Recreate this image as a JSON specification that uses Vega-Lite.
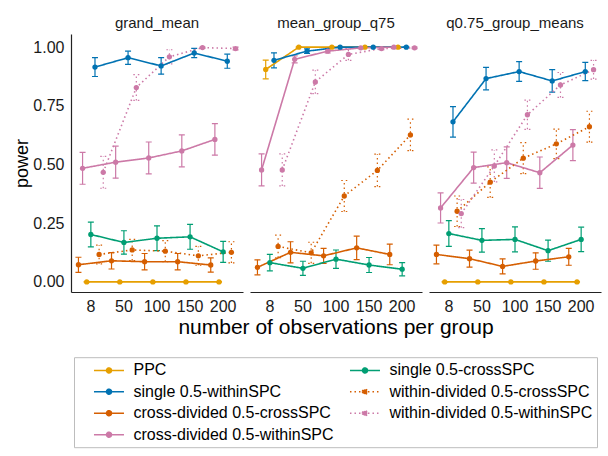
{
  "$schema": "https://vega.github.io/schema/vega-lite/v6.json",
  "padding": {"left": 13, "top": 16, "right": 5, "bottom": 5},
  "config": {
    "font": "Liberation Sans",
    "view": {"stroke": null},
    "axis": {"grid": false, "ticks": false, "domainColor": "#222222", "domainWidth": 1.2, "labelColor": "#1a1a1a", "labelFontSize": 16, "titleFontWeight": "normal", "titleColor": "#000000"},
    "header": {"labelFontSize": 15, "labelColor": "#1a1a1a", "titleFontSize": 21, "titleFontWeight": "normal", "titleColor": "#000000"},
    "legend": {"labelFontSize": 16, "labelColor": "#000000"}
  },
  "data": {"values": [
    {"panel":"grand_mean","n":"8","series":"PPC","power":0,"lo":0,"hi":0},
    {"panel":"grand_mean","n":"50","series":"PPC","power":0,"lo":0,"hi":0},
    {"panel":"grand_mean","n":"100","series":"PPC","power":0,"lo":0,"hi":0},
    {"panel":"grand_mean","n":"150","series":"PPC","power":0,"lo":0,"hi":0},
    {"panel":"grand_mean","n":"200","series":"PPC","power":0,"lo":0,"hi":0},
    {"panel":"grand_mean","n":"8","series":"single 0.5-withinSPC","power":0.915,"lo":0.875,"hi":0.955},
    {"panel":"grand_mean","n":"50","series":"single 0.5-withinSPC","power":0.955,"lo":0.927,"hi":0.983},
    {"panel":"grand_mean","n":"100","series":"single 0.5-withinSPC","power":0.92,"lo":0.885,"hi":0.955},
    {"panel":"grand_mean","n":"150","series":"single 0.5-withinSPC","power":0.975,"lo":0.955,"hi":0.995},
    {"panel":"grand_mean","n":"200","series":"single 0.5-withinSPC","power":0.94,"lo":0.91,"hi":0.97},
    {"panel":"grand_mean","n":"8","series":"cross-divided 0.5-crossSPC","power":0.073,"lo":0.041,"hi":0.105},
    {"panel":"grand_mean","n":"50","series":"cross-divided 0.5-crossSPC","power":0.09,"lo":0.055,"hi":0.125},
    {"panel":"grand_mean","n":"100","series":"cross-divided 0.5-crossSPC","power":0.086,"lo":0.051,"hi":0.121},
    {"panel":"grand_mean","n":"150","series":"cross-divided 0.5-crossSPC","power":0.086,"lo":0.051,"hi":0.121},
    {"panel":"grand_mean","n":"200","series":"cross-divided 0.5-crossSPC","power":0.072,"lo":0.042,"hi":0.102},
    {"panel":"grand_mean","n":"8","series":"cross-divided 0.5-withinSPC","power":0.484,"lo":0.416,"hi":0.552},
    {"panel":"grand_mean","n":"50","series":"cross-divided 0.5-withinSPC","power":0.51,"lo":0.442,"hi":0.578},
    {"panel":"grand_mean","n":"100","series":"cross-divided 0.5-withinSPC","power":0.528,"lo":0.46,"hi":0.596},
    {"panel":"grand_mean","n":"150","series":"cross-divided 0.5-withinSPC","power":0.558,"lo":0.49,"hi":0.626},
    {"panel":"grand_mean","n":"200","series":"cross-divided 0.5-withinSPC","power":0.607,"lo":0.54,"hi":0.674},
    {"panel":"grand_mean","n":"8","series":"single 0.5-crossSPC","power":0.202,"lo":0.149,"hi":0.255},
    {"panel":"grand_mean","n":"50","series":"single 0.5-crossSPC","power":0.168,"lo":0.118,"hi":0.218},
    {"panel":"grand_mean","n":"100","series":"single 0.5-crossSPC","power":0.186,"lo":0.133,"hi":0.239},
    {"panel":"grand_mean","n":"150","series":"single 0.5-crossSPC","power":0.192,"lo":0.139,"hi":0.245},
    {"panel":"grand_mean","n":"200","series":"single 0.5-crossSPC","power":0.128,"lo":0.083,"hi":0.173},
    {"panel":"grand_mean","n":"8","series":"within-divided 0.5-crossSPC","power":0.117,"lo":0.077,"hi":0.157},
    {"panel":"grand_mean","n":"50","series":"within-divided 0.5-crossSPC","power":0.136,"lo":0.091,"hi":0.181},
    {"panel":"grand_mean","n":"100","series":"within-divided 0.5-crossSPC","power":0.131,"lo":0.086,"hi":0.176},
    {"panel":"grand_mean","n":"150","series":"within-divided 0.5-crossSPC","power":0.111,"lo":0.071,"hi":0.151},
    {"panel":"grand_mean","n":"200","series":"within-divided 0.5-crossSPC","power":0.126,"lo":0.081,"hi":0.171},
    {"panel":"grand_mean","n":"8","series":"within-divided 0.5-withinSPC","power":0.467,"lo":0.399,"hi":0.535},
    {"panel":"grand_mean","n":"50","series":"within-divided 0.5-withinSPC","power":0.828,"lo":0.773,"hi":0.883},
    {"panel":"grand_mean","n":"100","series":"within-divided 0.5-withinSPC","power":0.959,"lo":0.929,"hi":0.989},
    {"panel":"grand_mean","n":"150","series":"within-divided 0.5-withinSPC","power":0.998,"lo":0.995,"hi":1.0},
    {"panel":"grand_mean","n":"200","series":"within-divided 0.5-withinSPC","power":0.994,"lo":0.988,"hi":1.0},

    {"panel":"mean_group_q75","n":"8","series":"PPC","power":0.905,"lo":0.865,"hi":0.945},
    {"panel":"mean_group_q75","n":"50","series":"PPC","power":1.0,"lo":1.0,"hi":1.0},
    {"panel":"mean_group_q75","n":"100","series":"PPC","power":1.0,"lo":1.0,"hi":1.0},
    {"panel":"mean_group_q75","n":"150","series":"PPC","power":1.0,"lo":1.0,"hi":1.0},
    {"panel":"mean_group_q75","n":"200","series":"PPC","power":1.0,"lo":1.0,"hi":1.0},
    {"panel":"mean_group_q75","n":"8","series":"single 0.5-withinSPC","power":0.944,"lo":0.912,"hi":0.976},
    {"panel":"mean_group_q75","n":"50","series":"single 0.5-withinSPC","power":0.983,"lo":0.973,"hi":0.993},
    {"panel":"mean_group_q75","n":"100","series":"single 0.5-withinSPC","power":1.0,"lo":1.0,"hi":1.0},
    {"panel":"mean_group_q75","n":"150","series":"single 0.5-withinSPC","power":1.0,"lo":1.0,"hi":1.0},
    {"panel":"mean_group_q75","n":"200","series":"single 0.5-withinSPC","power":1.0,"lo":1.0,"hi":1.0},
    {"panel":"mean_group_q75","n":"8","series":"cross-divided 0.5-crossSPC","power":0.062,"lo":0.03,"hi":0.094},
    {"panel":"mean_group_q75","n":"50","series":"cross-divided 0.5-crossSPC","power":0.126,"lo":0.081,"hi":0.171},
    {"panel":"mean_group_q75","n":"100","series":"cross-divided 0.5-crossSPC","power":0.111,"lo":0.079,"hi":0.143},
    {"panel":"mean_group_q75","n":"150","series":"cross-divided 0.5-crossSPC","power":0.145,"lo":0.095,"hi":0.195},
    {"panel":"mean_group_q75","n":"200","series":"cross-divided 0.5-crossSPC","power":0.117,"lo":0.073,"hi":0.161},
    {"panel":"mean_group_q75","n":"8","series":"cross-divided 0.5-withinSPC","power":0.477,"lo":0.409,"hi":0.545},
    {"panel":"mean_group_q75","n":"50","series":"cross-divided 0.5-withinSPC","power":0.948,"lo":0.933,"hi":0.963},
    {"panel":"mean_group_q75","n":"100","series":"cross-divided 0.5-withinSPC","power":0.983,"lo":0.975,"hi":0.991},
    {"panel":"mean_group_q75","n":"150","series":"cross-divided 0.5-withinSPC","power":0.997,"lo":0.994,"hi":1.0},
    {"panel":"mean_group_q75","n":"200","series":"cross-divided 0.5-withinSPC","power":1.0,"lo":1.0,"hi":1.0},
    {"panel":"mean_group_q75","n":"8","series":"single 0.5-crossSPC","power":0.082,"lo":0.047,"hi":0.117},
    {"panel":"mean_group_q75","n":"50","series":"single 0.5-crossSPC","power":0.058,"lo":0.028,"hi":0.088},
    {"panel":"mean_group_q75","n":"100","series":"single 0.5-crossSPC","power":0.097,"lo":0.058,"hi":0.136},
    {"panel":"mean_group_q75","n":"150","series":"single 0.5-crossSPC","power":0.072,"lo":0.04,"hi":0.104},
    {"panel":"mean_group_q75","n":"200","series":"single 0.5-crossSPC","power":0.054,"lo":0.026,"hi":0.082},
    {"panel":"mean_group_q75","n":"8","series":"within-divided 0.5-crossSPC","power":0.151,"lo":0.103,"hi":0.199},
    {"panel":"mean_group_q75","n":"50","series":"within-divided 0.5-crossSPC","power":0.124,"lo":0.079,"hi":0.169},
    {"panel":"mean_group_q75","n":"100","series":"within-divided 0.5-crossSPC","power":0.366,"lo":0.3,"hi":0.432},
    {"panel":"mean_group_q75","n":"150","series":"within-divided 0.5-crossSPC","power":0.475,"lo":0.406,"hi":0.544},
    {"panel":"mean_group_q75","n":"200","series":"within-divided 0.5-crossSPC","power":0.626,"lo":0.559,"hi":0.693},
    {"panel":"mean_group_q75","n":"8","series":"within-divided 0.5-withinSPC","power":0.477,"lo":0.409,"hi":0.545},
    {"panel":"mean_group_q75","n":"50","series":"within-divided 0.5-withinSPC","power":0.852,"lo":0.802,"hi":0.902},
    {"panel":"mean_group_q75","n":"100","series":"within-divided 0.5-withinSPC","power":0.969,"lo":0.944,"hi":0.994},
    {"panel":"mean_group_q75","n":"150","series":"within-divided 0.5-withinSPC","power":0.994,"lo":0.989,"hi":0.999},
    {"panel":"mean_group_q75","n":"200","series":"within-divided 0.5-withinSPC","power":0.997,"lo":0.994,"hi":1.0},

    {"panel":"q0.75_group_means","n":"8","series":"PPC","power":0,"lo":0,"hi":0},
    {"panel":"q0.75_group_means","n":"50","series":"PPC","power":0,"lo":0,"hi":0},
    {"panel":"q0.75_group_means","n":"100","series":"PPC","power":0,"lo":0,"hi":0},
    {"panel":"q0.75_group_means","n":"150","series":"PPC","power":0,"lo":0,"hi":0},
    {"panel":"q0.75_group_means","n":"200","series":"PPC","power":0,"lo":0,"hi":0},
    {"panel":"q0.75_group_means","n":"8","series":"single 0.5-withinSPC","power":0.682,"lo":0.617,"hi":0.747},
    {"panel":"q0.75_group_means","n":"50","series":"single 0.5-withinSPC","power":0.866,"lo":0.818,"hi":0.914},
    {"panel":"q0.75_group_means","n":"100","series":"single 0.5-withinSPC","power":0.896,"lo":0.854,"hi":0.938},
    {"panel":"q0.75_group_means","n":"150","series":"single 0.5-withinSPC","power":0.856,"lo":0.808,"hi":0.904},
    {"panel":"q0.75_group_means","n":"200","series":"single 0.5-withinSPC","power":0.896,"lo":0.857,"hi":0.935},
    {"panel":"q0.75_group_means","n":"8","series":"cross-divided 0.5-crossSPC","power":0.117,"lo":0.077,"hi":0.157},
    {"panel":"q0.75_group_means","n":"50","series":"cross-divided 0.5-crossSPC","power":0.099,"lo":0.063,"hi":0.135},
    {"panel":"q0.75_group_means","n":"100","series":"cross-divided 0.5-crossSPC","power":0.066,"lo":0.034,"hi":0.098},
    {"panel":"q0.75_group_means","n":"150","series":"cross-divided 0.5-crossSPC","power":0.089,"lo":0.054,"hi":0.124},
    {"panel":"q0.75_group_means","n":"200","series":"cross-divided 0.5-crossSPC","power":0.107,"lo":0.071,"hi":0.143},
    {"panel":"q0.75_group_means","n":"8","series":"cross-divided 0.5-withinSPC","power":0.315,"lo":0.251,"hi":0.379},
    {"panel":"q0.75_group_means","n":"50","series":"cross-divided 0.5-withinSPC","power":0.487,"lo":0.421,"hi":0.553},
    {"panel":"q0.75_group_means","n":"100","series":"cross-divided 0.5-withinSPC","power":0.508,"lo":0.441,"hi":0.575},
    {"panel":"q0.75_group_means","n":"150","series":"cross-divided 0.5-withinSPC","power":0.465,"lo":0.398,"hi":0.532},
    {"panel":"q0.75_group_means","n":"200","series":"cross-divided 0.5-withinSPC","power":0.583,"lo":0.517,"hi":0.649},
    {"panel":"q0.75_group_means","n":"8","series":"single 0.5-crossSPC","power":0.206,"lo":0.151,"hi":0.261},
    {"panel":"q0.75_group_means","n":"50","series":"single 0.5-crossSPC","power":0.177,"lo":0.127,"hi":0.227},
    {"panel":"q0.75_group_means","n":"100","series":"single 0.5-crossSPC","power":0.181,"lo":0.128,"hi":0.234},
    {"panel":"q0.75_group_means","n":"150","series":"single 0.5-crossSPC","power":0.133,"lo":0.088,"hi":0.178},
    {"panel":"q0.75_group_means","n":"200","series":"single 0.5-crossSPC","power":0.181,"lo":0.129,"hi":0.233},
    {"panel":"q0.75_group_means","n":"8","series":"within-divided 0.5-crossSPC","power":0.301,"lo":0.236,"hi":0.366},
    {"panel":"q0.75_group_means","n":"50","series":"within-divided 0.5-crossSPC","power":0.425,"lo":0.36,"hi":0.49},
    {"panel":"q0.75_group_means","n":"100","series":"within-divided 0.5-crossSPC","power":0.527,"lo":0.461,"hi":0.593},
    {"panel":"q0.75_group_means","n":"150","series":"within-divided 0.5-crossSPC","power":0.588,"lo":0.525,"hi":0.651},
    {"panel":"q0.75_group_means","n":"200","series":"within-divided 0.5-crossSPC","power":0.661,"lo":0.595,"hi":0.727},
    {"panel":"q0.75_group_means","n":"8","series":"within-divided 0.5-withinSPC","power":0.291,"lo":0.231,"hi":0.351},
    {"panel":"q0.75_group_means","n":"50","series":"within-divided 0.5-withinSPC","power":0.494,"lo":0.426,"hi":0.562},
    {"panel":"q0.75_group_means","n":"100","series":"within-divided 0.5-withinSPC","power":0.712,"lo":0.65,"hi":0.774},
    {"panel":"q0.75_group_means","n":"150","series":"within-divided 0.5-withinSPC","power":0.839,"lo":0.786,"hi":0.892},
    {"panel":"q0.75_group_means","n":"200","series":"within-divided 0.5-withinSPC","power":0.904,"lo":0.864,"hi":0.944}
  ]},
  "facet": {
    "column": {
      "field": "panel",
      "type": "nominal",
      "sort": ["grand_mean", "mean_group_q75", "q0.75_group_means"],
      "title": "number of observations per group",
      "header": {"titleOrient": "bottom", "labelOrient": "top", "labelBaseline": "alphabetic", "labelPadding": -9, "titlePadding": -7}
    }
  },
  "spacing": {"column": 7},
  "spec": {
    "width": 172,
    "height": 258,
    "encoding": {
      "x": {"field": "n", "type": "ordinal", "sort": ["8", "50", "100", "150", "200"],
        "scale": {"paddingInner": 0, "paddingOuter": 0.1},
        "axis": {"title": null, "labelAngle": 0, "labelPadding": 6}},
      "xOffset": {"field": "series", "type": "nominal",
        "scale": {"type": "point", "padding": 2.85,
          "domain": ["cross-divided 0.5-crossSPC", "cross-divided 0.5-withinSPC", "PPC", "single 0.5-crossSPC", "single 0.5-withinSPC", "within-divided 0.5-crossSPC", "within-divided 0.5-withinSPC"]}},
      "color": {"field": "series", "type": "nominal",
        "scale": {
          "domain": ["PPC", "single 0.5-withinSPC", "cross-divided 0.5-crossSPC", "cross-divided 0.5-withinSPC", "single 0.5-crossSPC", "within-divided 0.5-crossSPC", "within-divided 0.5-withinSPC"],
          "range": ["#E69F00", "#0072B2", "#D55E00", "#CC79A7", "#009E73", "#D55E00", "#CC79A7"]},
        "legend": {
          "title": null, "orient": "none", "legendX": 3, "legendY": 323.2,
          "columns": 2, "columnPadding": -4, "rowPadding": 4.5,
          "padding": 4.5, "strokeColor": "#bdbdbd",
          "symbolType": "M0.93,0H4.93M2.6,0A0.33,0.33,0,1,0,3.26,0A0.33,0.33,0,1,0,2.6,0Z",
          "symbolSize": 225, "symbolStrokeWidth": 1.6, "symbolOpacity": 1,
          "labelOffset": 38, "labelFontSize": 16, "labelLimit": 400,
          "encode": {"symbols": {"update": {"fill": {"scale": "color", "field": "value"}}}}
        }},
      "strokeDash": {"field": "series", "type": "nominal",
        "scale": {
          "domain": ["PPC", "single 0.5-withinSPC", "cross-divided 0.5-crossSPC", "cross-divided 0.5-withinSPC", "single 0.5-crossSPC", "within-divided 0.5-crossSPC", "within-divided 0.5-withinSPC"],
          "range": [[1, 0], [1, 0], [1, 0], [1, 0], [1, 0], [1.5, 3], [1.5, 3]]}}
    },
    "layer": [
      {"mark": {"type": "rule", "strokeWidth": 1.2},
       "encoding": {"y": {"field": "lo", "type": "quantitative"}, "y2": {"field": "hi"}}},
      {"mark": {"type": "point", "shape": "M-1,0H1", "size": 36, "filled": false, "strokeWidth": 1.2, "opacity": 1},
       "encoding": {"y": {"field": "lo", "type": "quantitative"}}},
      {"mark": {"type": "point", "shape": "M-1,0H1", "size": 36, "filled": false, "strokeWidth": 1.2, "opacity": 1},
       "encoding": {"y": {"field": "hi", "type": "quantitative"}}},
      {"mark": {"type": "line", "strokeWidth": 1.6},
       "encoding": {"y": {"field": "power", "type": "quantitative",
         "scale": {"domain": [-0.043, 1.056], "nice": false, "zero": false},
         "axis": {"title": "power", "titleFontSize": 18, "values": [0, 0.25, 0.5, 0.75, 1], "format": ".2f", "labelPadding": 7, "titlePadding": 1}}}},
      {"mark": {"type": "point", "filled": true, "size": 28, "opacity": 1},
       "encoding": {"y": {"field": "power", "type": "quantitative"}, "strokeDash": {"value": [1, 0]}}}
    ]
  },
  "resolve": {"scale": {"x": "shared", "y": "shared"}}
}
